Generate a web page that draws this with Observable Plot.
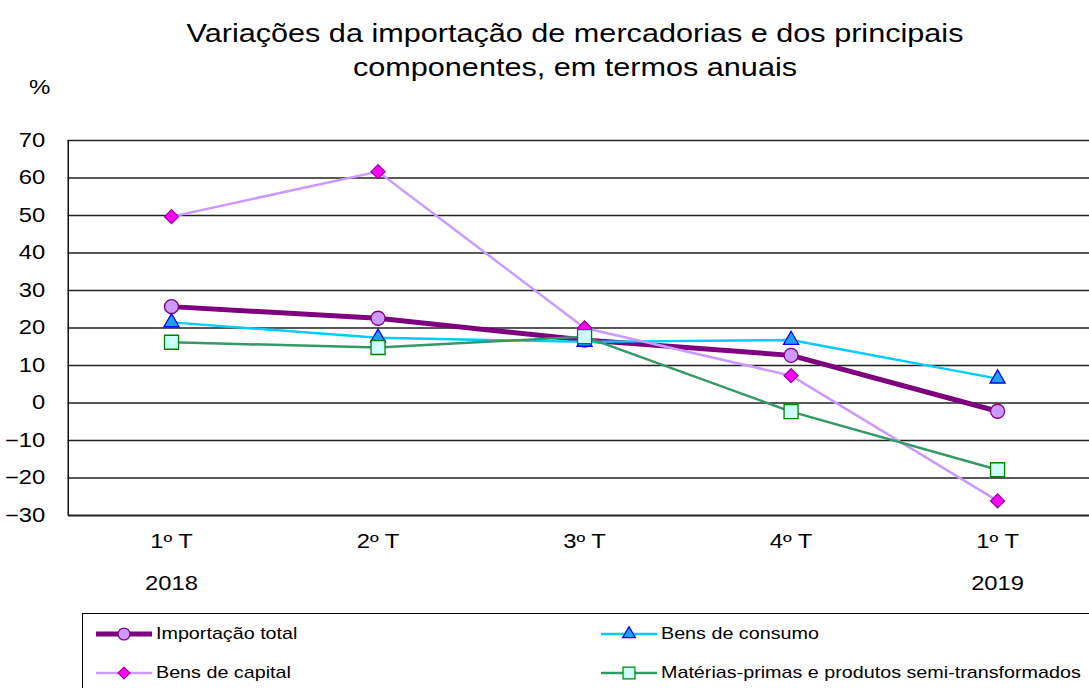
<!DOCTYPE html>
<html>
<head>
<meta charset="utf-8">
<script src="https://cdn.jsdelivr.net/npm/d3@7"></script>
<script src="https://cdn.jsdelivr.net/npm/@observablehq/plot@0.6"></script>
<style>
  html, body { margin: 0; padding: 0; background: #fff; overflow: hidden; }
  #wrap { position: relative; width: 1089px; height: 688px; font-family: "Liberation Sans", Arial, sans-serif; color: #000; }
  #title { position: absolute; left: 75px; width: 1000px; top: 16px; text-align: center; font-size: 26.5px; line-height: 34px; transform: scaleX(1.155); transform-origin: 500px 0; }
  #unit { position: absolute; left: 29px; top: 76px; font-size: 20px; transform: scaleX(1.2); transform-origin: 0 0; }
  #legend { position: absolute; left: 82px; top: 613px; width: 1020px; height: 90px; border: 1px solid #000; box-sizing: border-box; background: #fff; }
  .item { position: absolute; display: flex; align-items: center; font-size: 17px; height: 22px; }
  .item svg { margin-right: 3px; }
  .item span { display: inline-block; transform: scaleX(1.16); transform-origin: 0 50%; white-space: nowrap; }
</style>
</head>
<body>
<div id="wrap">
  <div id="chart"></div>
  <div id="title">Variações da importação de mercadorias e dos principais<br>componentes, em termos anuais</div>
  <div id="unit">%</div>
  <div id="legend"></div>
</div>
<script>
const quarters = ["1º T", "2º T", "3º T", "4º T", "1º T"];
const years = ["2018", "", "", "", "2019"];
const yTicks = [70, 60, 50, 40, 30, 20, 10, 0, -10, -20, -30];

const importacaoTotal = [25.7, 22.6, 16.8, 12.7, -2.2];
const bensConsumo = [21.5, 17.4, 16.3, 16.8, 6.5];
const bensCapital = [49.7, 61.7, 20.0, 7.3, -26.1];
const materiasPrimas = [16.2, 14.8, 17.7, -2.3, -17.8];

const series = [
  {name: "Importação total", values: importacaoTotal, line: "#7f007f", lw: 5, symbol: "circle", r: 7, fill: "#cc99ff", stroke: "#800080"},
  {name: "Bens de consumo", values: bensConsumo, line: "#00ccff", lw: 2.5, symbol: "triangle", r: 5.6, fill: "#1ea0ff", stroke: "#0000ff"},
  {name: "Bens de capital", values: bensCapital, line: "#cc99ff", lw: 2.5, symbol: "diamond2", r: 6.3, fill: "#ff00ff", stroke: "#990099"},
  {name: "Matérias-primas e produtos semi-transformados", values: materiasPrimas, line: "#339966", lw: 2.5, symbol: "square", r: 7.9, fill: "#ccffff", stroke: "#008000"}
];

const rows = series.flatMap(s => s.values.map((v, i) => ({name: s.name, i, v})));
const idx = quarters.map((q, i) => i);

const marks = [
  Plot.ruleY(yTicks.filter(t => t > -30), {stroke: "#222", strokeWidth: 1.4}),
  Plot.ruleY([-30], {stroke: "#222", strokeWidth: 2.2}),
  Plot.ruleX([-0.5], {y1: -30, y2: 70, stroke: "#111", strokeWidth: 1.5}),
  Plot.axisY(yTicks, {tickSize: 0, tickPadding: 23, fontSize: 19.5, label: null}),
  Plot.text(idx, {x: d => d, text: d => quarters[d], frameAnchor: "bottom", dy: 32, fontSize: 19.5}),
  Plot.text(idx, {x: d => d, text: d => years[d], frameAnchor: "bottom", dy: 74, fontSize: 19.5})
];
for (const s of series) {
  marks.push(Plot.line(rows.filter(d => d.name === s.name), {x: "i", y: "v", stroke: s.line, strokeWidth: s.lw}));
}
for (const s of series) {
  marks.push(Plot.dot(rows.filter(d => d.name === s.name), {x: "i", y: "v", symbol: () => s.symbol, r: s.r, fill: s.fill, stroke: s.stroke, strokeWidth: 1.3}));
}

const chart = Plot.plot({
  width: 1089,
  height: 688,
  marginTop: 140,
  marginBottom: 173,
  marginLeft: 67.75,
  marginRight: 0,
  style: {fontFamily: "Liberation Sans, Arial, sans-serif", color: "#000", background: "#fff", overflow: "visible"},
  x: {type: "linear", domain: [-0.5, 4.445], axis: null},
  y: {domain: [-30, 70], axis: null},
  symbol: {type: "identity"},
  marks
});
// widen the glyphs horizontally as in the reference
chart.querySelectorAll("text").forEach(t => {
  const tr = t.getAttribute("transform") || "";
  t.setAttribute("transform", tr + " scale(1.22,1)");
});
document.getElementById("chart").appendChild(chart);

// Legend
const legend = document.getElementById("legend");
const pos = [[12, 9], [517, 9], [12, 48], [517, 48]];
series.forEach((s, k) => {
  const div = document.createElement("div");
  div.className = "item";
  div.style.left = pos[k][0] + "px";
  div.style.top = pos[k][1] + "px";
  const svg = d3.create("svg").attr("width", 58).attr("height", 20);
  svg.append("line").attr("x1", 1).attr("x2", 57).attr("y1", 10).attr("y2", 10).attr("stroke", s.line).attr("stroke-width", s.lw);
  const symMap = {circle: d3.symbolCircle, triangle: d3.symbolTriangle, diamond2: d3.symbolDiamond2, square: d3.symbolSquare};
  svg.append("path").attr("transform", "translate(29,10)")
    .attr("d", d3.symbol(symMap[s.symbol], Math.PI * (s.r * 0.85) ** 2)())
    .attr("fill", s.fill).attr("stroke", s.stroke).attr("stroke-width", 1.2);
  div.appendChild(svg.node());
  const span = document.createElement("span");
  span.textContent = s.name;
  div.appendChild(span);
  legend.appendChild(div);
});
</script>
</body>
</html>
